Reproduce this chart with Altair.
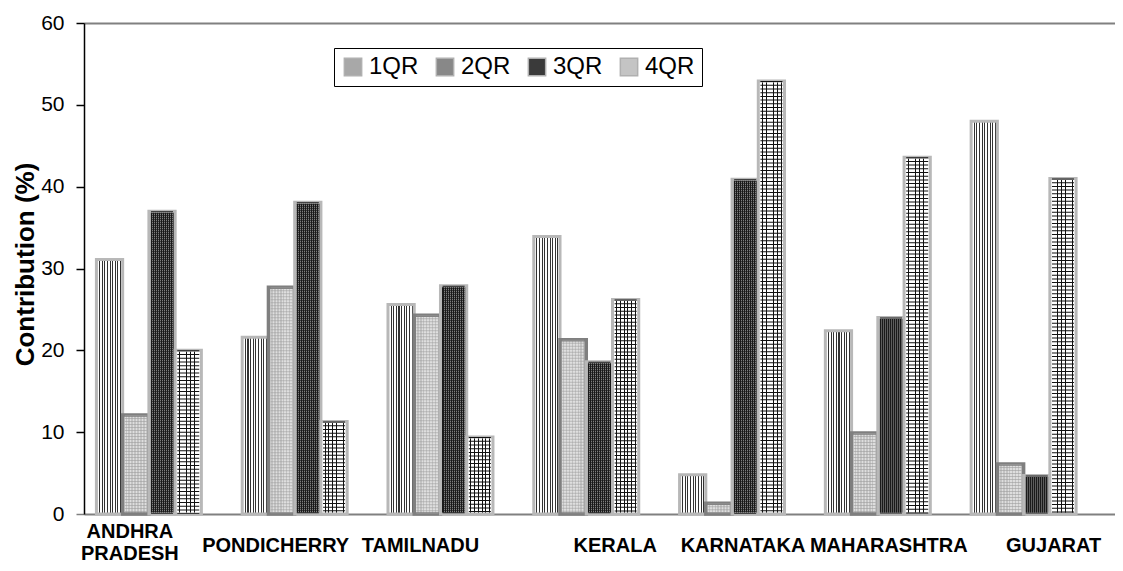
import altair as alt
import pandas as pd

states = ["ANDHRA PRADESH", "PONDICHERRY", "TAMILNADU", "KERALA",
          "KARNATAKA", "MAHARASHTRA", "GUJARAT"]
quarters = ["1QR", "2QR", "3QR", "4QR"]
q1 = [31.1, 21.6, 25.6, 33.9, 4.8, 22.4, 48.0]
q2 = [12.1, 27.7, 24.3, 21.3, 1.3, 9.9, 6.1]
q3 = [37.0, 38.1, 27.9, 18.6, 40.9, 24.0, 4.7]
q4 = [20.0, 11.3, 9.4, 26.2, 52.9, 43.6, 41.0]

rows = []
for qname, vals in zip(quarters, [q1, q2, q3, q4]):
    for s, v in zip(states, vals):
        rows.append({"state": s, "quarter": qname, "value": v})
df = pd.DataFrame(rows)

FONT = "Liberation Sans"

# horizontal nudges of the category labels (style only)
label_nudge = [-19, -19, -20, 29, 11, 11, 30]


def stripes(n, frac, c_line, c_bg):
    stops = []
    for k in range(n):
        a = k / n
        b = (k + frac) / n
        c = (k + 1) / n
        stops += [
            {"offset": round(a, 4), "color": c_line},
            {"offset": round(b, 4), "color": c_line},
            {"offset": round(b, 4), "color": c_bg},
            {"offset": round(c, 4), "color": c_bg},
        ]
    return {"gradient": "linear", "x1": 0, "x2": 1, "y1": 0, "y2": 0, "stops": stops}


label_offset = {
    "condition": [{"test": f"datum.label == '{s}'", "value": o}
                  for s, o in zip(states, label_nudge)],
    "value": 0,
}
label_padding = {
    "condition": {"test": "datum.label == 'ANDHRA PRADESH'", "value": 17},
    "value": 31,
}

x_enc = alt.X(
    "state:N", sort=states,
    scale=alt.Scale(paddingInner=0.28, paddingOuter=0.176, align=0.242),
    axis=alt.Axis(
        title=None, ticks=False, labelAngle=0, labelFontSize=20,
        labelFontWeight="bold", labelFont=FONT, labelColor="black",
        labelPadding=label_padding, labelOffset=label_offset,
        labelBaseline="middle",
        labelExpr="split(datum.label, ' ')", labelLineHeight=22,
        labelOverlap=False, labelLimit=0,
        domainColor="#808080", domainWidth=2,
    ),
)
xo_enc = alt.XOffset("quarter:N", sort=quarters,
                     scale=alt.Scale(paddingInner=0, paddingOuter=0))
y_enc = alt.Y(
    "value:Q",
    scale=alt.Scale(domain=[0, 60], nice=False, zero=True),
    axis=alt.Axis(
        values=[0, 10, 20, 30, 40, 50, 60], tickSize=8, tickWidth=1.5,
        tickColor=alt.condition("datum.value == 0", alt.value("#808080"), alt.value("black")),
        domainColor="black", domainWidth=1.5,
        labelFontSize=21, labelFont=FONT, labelColor="black", labelPadding=12,
        grid=True, gridWidth=2,
        gridColor=alt.condition("datum.value == 60", alt.value("#808080"), alt.value("transparent")),
        title="Contribution (%)", titleFontSize=26, titleFont=FONT,
        titleFontWeight="bold", titleColor="black",
        titleX=-51, titleY=241, titleAngle=270, titleBaseline="alphabetic",
        titleAlign="center",
    ),
)

base = alt.Chart(df)

legend_layer = base.mark_bar().encode(
    x=x_enc, xOffset=xo_enc, y=y_enc,
    color=alt.Color(
        "quarter:N", sort=quarters,
        scale=alt.Scale(domain=quarters, range=["#a8a8a8", "#888888", "#3a3a3a", "#c4c4c4"]),
        legend=alt.Legend(
            title=None, orient="none", legendX=250, legendY=25,
            direction="horizontal", strokeColor="black", fillColor="white",
            padding=7, symbolType="square", symbolSize=300,
            symbolStrokeColor="#b0b0b0", symbolStrokeWidth=1.5,
            labelFontSize=24, labelFont=FONT, labelColor="black",
            columnPadding=14, labelOffset=4,
        ),
    ),
)

fill_1 = stripes(10, 0.4, "#333333", "#ffffff")
fill_2 = stripes(9, 0.5, "#c4c4c4", "#dedede")
fill_3 = stripes(13, 0.5, "#1a1a1a", "#a0a0a0")
fill_4 = stripes(7, 0.22, "#111111", "#ffffff")

bar1 = base.transform_filter(alt.datum.quarter == "1QR").mark_bar(
    fill=fill_1, stroke="#b8b8b8", strokeWidth=3).encode(x=x_enc, xOffset=xo_enc, y=y_enc)
bar2 = base.transform_filter(alt.datum.quarter == "2QR").mark_bar(
    fill=fill_2, stroke="#7f7f7f", strokeWidth=3.5).encode(x=x_enc, xOffset=xo_enc, y=y_enc)
bar3 = base.transform_filter(alt.datum.quarter == "3QR").mark_bar(
    fill=fill_3, stroke="#b8b8b8", strokeWidth=3).encode(x=x_enc, xOffset=xo_enc, y=y_enc)
bar4 = base.transform_filter(alt.datum.quarter == "4QR").mark_bar(
    fill=fill_4, stroke="#b8b8b8", strokeWidth=3).encode(x=x_enc, xOffset=xo_enc, y=y_enc)

rule2 = base.transform_filter(alt.datum.quarter == "2QR").mark_rule(
    color="#9e9e9e", strokeWidth=22, strokeDash=[1, 2], opacity=0.6).encode(
    x=x_enc, xOffset=xo_enc, y=y_enc, y2=alt.datum(0))
rule3 = base.transform_filter(alt.datum.quarter == "3QR").mark_rule(
    color="#1a1a1a", strokeWidth=22, strokeDash=[1, 1]).encode(
    x=x_enc, xOffset=xo_enc, y=y_enc, y2=alt.datum(0))
rule4 = base.transform_filter(alt.datum.quarter == "4QR").mark_rule(
    color="#111111", strokeWidth=22, strokeDash=[1, 2.7]).encode(
    x=x_enc, xOffset=xo_enc, y=y_enc, y2=alt.datum(0))

chart = alt.layer(legend_layer, bar1, bar2, bar3, bar4, rule2, rule3, rule4).properties(
    width=1031, height=491,
    autosize=alt.AutoSizeParams(type="none"),
    padding={"left": 76, "top": 15, "right": 0, "bottom": 48},
).configure_view(stroke=None).configure(background="white")

chart.save("out.html", embed_options={"renderer": "svg", "actions": False})
